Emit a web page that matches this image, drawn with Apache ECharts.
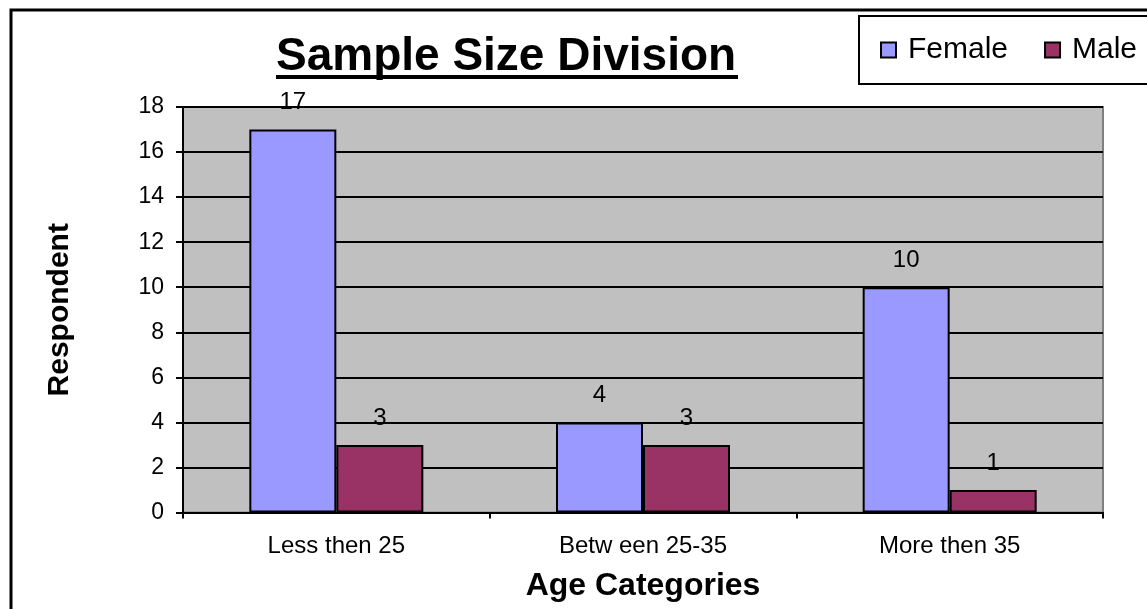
<!DOCTYPE html>
<html>
<head>
<meta charset="utf-8">
<script src="https://cdn.jsdelivr.net/npm/echarts@6/dist/echarts.min.js"></script>
<style>
html,body{margin:0;padding:0;background:#fff;}
#chart{width:1147px;height:609px;}
</style>
</head>
<body>
<div id="chart"></div>
<script>
const categories = ['Less then 25', 'Betw een 25-35', 'More then 35'];
const femaleValues = [17, 4, 10];
const maleValues = [3, 3, 1];
const seriesNames = ['Female', 'Male'];
const yTicks = {min: 0, max: 18, interval: 2};

const FONT = '"Liberation Sans", Arial, sans-serif';
const chart = echarts.init(document.getElementById('chart'), null, {renderer: 'canvas'});

const labelStyle = {
  show: true, position: 'top', distance: 15,
  color: '#000', fontFamily: FONT, fontSize: 24
};

chart.setOption({
  backgroundColor: '#fff',
  animation: false,
  title: {
    text: 'Sample Size Division',
    left: 276, top: 34,
    padding: 0,
    textStyle: {fontFamily: FONT, fontSize: 46, fontWeight: 'bold', color: '#000'}
  },
  legend: {
    data: seriesNames,
    left: 859, top: 16,
    width: 500,
    orient: 'horizontal',
    backgroundColor: '#fff',
    borderColor: '#000', borderWidth: 2,
    padding: [19, 40, 19, 21],
    itemGap: 36,
    itemWidth: 15, itemHeight: 15,
    icon: 'rect',
    itemStyle: {borderColor: '#000', borderWidth: 2},
    textStyle: {fontFamily: FONT, fontSize: 30, color: '#000', padding: [0, 0, 0, 7]}
  },
  grid: {
    left: 183, right: 44, top: 107, bottom: 96.5,
    show: true, backgroundColor: '#C0C0C0',
    borderColor: '#808080', borderWidth: 2
  },
  xAxis: {
    type: 'category',
    data: categories,
    name: 'Age Categories',
    nameLocation: 'middle',
    nameGap: 58,
    nameTextStyle: {fontFamily: FONT, fontSize: 32, fontWeight: 'bold', color: '#000'},
    axisLine: {lineStyle: {color: '#000', width: 2}},
    axisTick: {show: true, length: 6, lineStyle: {color: '#000', width: 2}},
    axisLabel: {fontFamily: FONT, fontSize: 24, color: '#000', margin: 22},
    splitLine: {show: false}
  },
  yAxis: {
    type: 'value',
    min: yTicks.min, max: yTicks.max, interval: yTicks.interval,
    name: 'Respondent',
    nameLocation: 'middle',
    nameGap: 108,
    nameRotate: 90,
    nameTextStyle: {fontFamily: FONT, fontSize: 30, fontWeight: 'bold', color: '#000'},
    axisLine: {show: true, lineStyle: {color: '#000', width: 2}},
    axisTick: {show: true, length: 7, lineStyle: {color: '#000', width: 2}},
    axisLabel: {fontFamily: FONT, fontSize: 23, color: '#000', margin: 19},
    splitLine: {show: true, lineStyle: {color: '#000', width: 2}}
  },
  series: [
    {
      name: seriesNames[0], type: 'bar', data: femaleValues,
      barWidth: 87, barGap: '0%',
      itemStyle: {color: '#9999FF', borderColor: '#000', borderWidth: 2},
      label: labelStyle
    },
    {
      name: seriesNames[1], type: 'bar', data: maleValues,
      barWidth: 87, barGap: '0%',
      itemStyle: {color: '#993366', borderColor: '#000', borderWidth: 2},
      label: labelStyle
    }
  ],
  graphic: [
    {type: 'rect', shape: {x: 11, y: 10, width: 1300, height: 800},
     style: {fill: null, stroke: '#000', lineWidth: 3}, z: 100, silent: true},
    {type: 'line', shape: {x1: 276, y1: 77, x2: 738, y2: 77},
     style: {stroke: '#000', lineWidth: 4}, z: 100, silent: true}
  ]
});
</script>
</body>
</html>
